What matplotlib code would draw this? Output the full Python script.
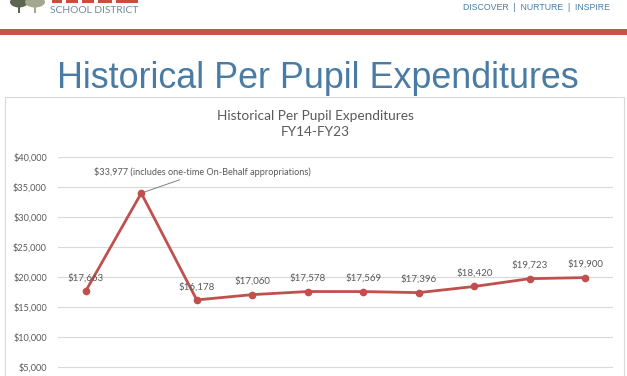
import matplotlib
matplotlib.use("Agg")
import matplotlib.pyplot as plt
from matplotlib.patches import Rectangle, Ellipse

years = ["FY14", "FY15", "FY16", "FY17", "FY18", "FY19", "FY20", "FY21", "FY22", "FY23"]
values = [17663, 33977, 16178, 17060, 17578, 17569, 17396, 18420, 19723, 19900]
yticks = [5000, 10000, 15000, 20000, 25000, 30000, 35000, 40000]
chart_title = "Historical Per Pupil Expenditures\nFY14-FY23"
slide_title = "Historical Per Pupil Expenditures"
peak_note = "$33,977 (includes one-time On-Behalf appropriations)"

W, H = 627, 376
fig = plt.figure(figsize=(W / 100, H / 100), dpi=100)
fig.patch.set_facecolor("white")

def fx(px):
    return px / W

def fy(py):
    return 1 - py / H

def rect(x0, y0, x1, y1, color, **kw):
    fig.add_artist(Rectangle((fx(x0), fy(y1)), (x1 - x0) / W, (y1 - y0) / H,
                             transform=fig.transFigure, facecolor=color,
                             edgecolor="none", **kw))

# header
rect(0, 29, W, 35, "#c65546")
fig.text(fx(50), fy(10.5), "SCHOOL DISTRICT", fontsize=7.4, color="#6f8a99",
         family="Lato", va="center", ha="left")
fig.text(fx(610), fy(7), "DISCOVER  |  NURTURE  |  INSPIRE", fontsize=6.3,
         color="#4a7fa6", family="Liberation Sans", va="center", ha="right")
# tree marks of the logo
for cx, col, w in [(19, "#5f6650", 18), (35, "#a3a88f", 20)]:
    fig.add_artist(Ellipse((fx(cx), fy(2)), w / W, 11 / H, transform=fig.transFigure,
                           facecolor=col, edgecolor="none"))
    rect(cx - 1, 6, cx + 1, 13, col)
# clipped red logo lettering
for x0, x1 in [(52, 62), (66, 78), (82, 94), (98, 112), (116, 138)]:
    rect(x0, 0, x1, 2.5, "#c94f3d")

# slide title
fig.text(fx(317.5), fy(79), slide_title, fontsize=25.8, color="#4a7ba3",
         family="Liberation Sans", ha="center", va="center")

# chart frame
fig.add_artist(Rectangle((fx(5), fy(400)), fx(619), (400 - 97) / H,
                         transform=fig.transFigure, facecolor="none",
                         edgecolor="#d9d9d9", linewidth=0.8))

fig.text(fx(315), fy(123.5), chart_title, fontsize=9.8, color="#595959",
         family="Lato", ha="center", va="center", linespacing=1.4)

# plot area: $40,000 at y=157, $0 at y=397
top_px, bot_px = 157, 397
left_px, right_px = 58, 613
ax = fig.add_axes([fx(left_px), fy(bot_px), (right_px - left_px) / W, (bot_px - top_px) / H])
ax.set_facecolor("none")
ax.set_ylim(0, 40000)
ax.set_xlim(-0.5, len(values) - 0.5)
ax.set_yticks(yticks)
ax.set_yticklabels([f"${v:,.0f}" for v in yticks], fontsize=6.6, color="#595959", family="Lato")
ax.set_xticks(range(len(years)))
ax.set_xticklabels([])  # category labels fall below the visible crop
ax.tick_params(axis="y", length=0, pad=8)
ax.tick_params(axis="x", length=0)
ax.yaxis.grid(True, color="#d9d9d9", linewidth=0.8)
ax.set_axisbelow(True)
for s in ax.spines.values():
    s.set_visible(False)

x = list(range(len(values)))
ax.plot(x, values, color="#c0504d", linewidth=2.0, marker="o", markersize=4.5, zorder=3)

for i, v in enumerate(values):
    if i == 1:
        continue
    ax.annotate(f"${v:,.0f}", (i, v), xytext=(0, 9.5), textcoords="offset points",
                ha="center", va="center", fontsize=7, color="#595959", family="Lato")

# peak callout
ax.annotate(peak_note, (1, values[1]), xytext=(202, fy(177) * H), textcoords="figure pixels",
            ha="center", va="bottom", fontsize=6.6, color="#595959", family="Lato",
            arrowprops=dict(arrowstyle="-", color="#7f7f7f", linewidth=0.7,
                            shrinkA=0, shrinkB=2))

fig.savefig("out.png", dpi=100)
